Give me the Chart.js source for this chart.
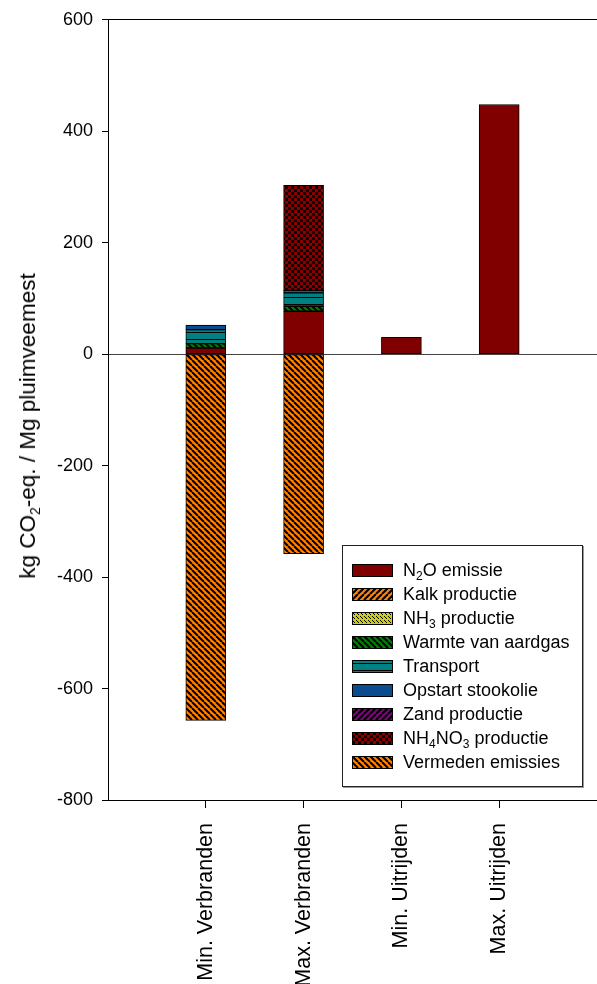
<!DOCTYPE html>
<html>
<head>
<meta charset="utf-8">
<script src="https://cdn.jsdelivr.net/npm/chart.js@4"></script>
<style>
  body { margin: 0; background: #fff; font-family: 'Liberation Sans', Arial, sans-serif; }
  #wrap { position: relative; width: 597px; height: 984px; overflow: hidden; }
  #ytitle {
    position: absolute; left: 28px; top: 426px; white-space: nowrap;
    font-size: 22.5px; color: #000;
    transform: translate(-50%, -50%) rotate(-90deg);
  }
  #legend {
    position: absolute; left: 342px; top: 545px; width: 241px; height: 242px;
    box-sizing: border-box; border: 1.5px solid #222; background: #fff;
    box-shadow: 1px 1px 0 #999; padding: 12px 0 0 9px;
  }
  .row { height: 24.1px; display: flex; align-items: center; font-size: 18px; color: #000; }
  .row canvas { width: 41px; height: 13px; margin-right: 10px; flex: none; }
  sub { font-size: 12px; vertical-align: -4px; line-height: 0; }
  #ytitle sub { font-size: 14px; vertical-align: -5px; }
</style>
</head>
<body>
<div id="wrap">
  <canvas id="chart"></canvas>
  <div id="ytitle">kg CO<sub>2</sub>-eq. / Mg pluimveemest</div>
  <div id="legend"></div>
</div>
<script>
const categories = ['Min. Verbranden', 'Max. Verbranden', 'Min. Uitrijden', 'Max. Uitrijden'];
const n2oEmissie = [11, 77, 30, 448];
const kalkProductie = [0, 0, 0, 0];
const nh3Productie = [0, 0, 0, 0];
const warmteAardgas = [8, 9, 0, 0];
const transport = [25, 24, 0, 0];
const opstartStookolie = [8, 4, 0, 0];
const zandProductie = [0, 0, 0, 0];
const nh4no3Productie = [0, 189, 0, 0];
const vermedenEmissies = [-657, -358, 0, 0];
const yTicks = [600, 400, 200, 0, -200, -400, -600, -800];

// legend labels with subscripts
const legendNames = ['N<sub>2</sub>O emissie', 'Kalk productie', 'NH<sub>3</sub> productie',
  'Warmte van aardgas', 'Transport', 'Opstart stookolie', 'Zand productie',
  'NH<sub>4</sub>NO<sub>3</sub> productie', 'Vermeden emissies'];
const plainNames = ['N2O emissie', 'Kalk productie', 'NH3 productie', 'Warmte van aardgas',
  'Transport', 'Opstart stookolie', 'Zand productie', 'NH4NO3 productie', 'Vermeden emissies'];

function makePattern(w, h, bg, draw) {
  const c = document.createElement('canvas');
  c.width = w; c.height = h;
  const g = c.getContext('2d');
  g.fillStyle = bg;
  g.fillRect(0, 0, w, h);
  g.strokeStyle = '#000';
  g.fillStyle = '#000';
  if (draw) draw(g, w, h);
  return g.createPattern(c, 'repeat');
}
function backDiag(g, w, h) {
  g.lineWidth = 2;
  g.beginPath();
  for (let k = -1; k <= 1; k++) { g.moveTo(k * w, 0); g.lineTo(k * w + w, h); }
  g.stroke();
}
function fwdDiag(g, w, h) {
  g.lineWidth = 2;
  g.beginPath();
  for (let k = -1; k <= 1; k++) { g.moveTo(k * w, h); g.lineTo(k * w + w, 0); }
  g.stroke();
}

const fills = [
  '#800000',
  makePattern(6, 6, '#ff8000', fwdDiag),
  makePattern(4, 4, '#d0d000', (g) => { g.fillRect(0, 0, 1, 1); g.fillRect(2, 2, 1, 1); g.fillRect(1, 1, 1, 1); }),
  makePattern(6, 6, '#008000', backDiag),
  makePattern(8, 7, '#008080', (g, w) => { g.fillRect(0, 3, w, 1); }),
  '#0a4c8f',
  makePattern(6, 6, '#800080', fwdDiag),
  makePattern(6, 6, '#120000', (g) => { g.fillStyle = '#8a0000'; g.fillRect(0, 0, 3, 3); g.fillRect(3, 3, 3, 3); }),
  makePattern(6, 6, '#ff8000', backDiag)
];

const series = [n2oEmissie, kalkProductie, nh3Productie, warmteAardgas, transport,
  opstartStookolie, zandProductie, nh4no3Productie, vermedenEmissies];

const labels = [''].concat(categories, ['']);
// empty segments are left out so they draw no border line
const pad = (arr) => [null].concat(arr.map(v => v === 0 ? null : v), [null]);

const datasets = series.map((arr, i) => ({
  label: plainNames[i],
  data: pad(arr),
  backgroundColor: fills[i],
  borderColor: '#000',
  borderWidth: 1,
  borderSkipped: false,
  barThickness: 40,
  stack: 's'
}));

const font = "'Liberation Sans', Arial, sans-serif";

const chart = new Chart(document.getElementById('chart').getContext('2d'), {
  type: 'bar',
  data: { labels: labels, datasets: datasets },
  options: {
    responsive: true,
    maintainAspectRatio: false,
    animation: false,
    layout: { padding: { top: 17, right: 0, bottom: 0, left: 0 } },
    plugins: {
      legend: { display: false },
      tooltip: { enabled: false }
    },
    scales: {
      x: {
        stacked: true,
        offset: false,
        border: { display: true, color: '#000', width: 1 },
        grid: {
          offset: false,
          drawOnChartArea: false,
          color: 'transparent',
          tickLength: 8,
          tickColor: (ctx) => (ctx.index === 0 || ctx.index === labels.length - 1) ? 'transparent' : '#000'
        },
        ticks: {
          autoSkip: false,
          minRotation: 90,
          maxRotation: 90,
          padding: 15,
          color: '#000',
          font: { family: font, size: 21.5 }
        },
        afterFit: (s) => { s.height = 184; s.paddingLeft = 0; s.paddingRight = 0; }
      },
      y: {
        stacked: true,
        min: -800,
        max: 600,
        z: 1,
        border: { display: true, color: '#000', width: 1 },
        grid: {
          color: (ctx) => {
            if (!ctx.tick) return 'transparent';
            if (ctx.tick.value === 0) return '#444';
            if (ctx.tick.value === 600) return '#000';
            return 'transparent';
          },
          tickColor: '#000',
          tickLength: 6
        },
        afterBuildTicks: (s) => { s.ticks = yTicks.map(v => ({ value: v })); },
        ticks: {
          padding: 9,
          color: '#000',
          font: { family: font, size: 18 }
        },
        afterFit: (s) => { s.width = 108; }
      }
    }
  }
});

// legend built from the chart datasets
const legendEl = document.getElementById('legend');
chart.data.datasets.forEach((ds, i) => {
  const row = document.createElement('div');
  row.className = 'row';
  const sw = document.createElement('canvas');
  sw.width = 41; sw.height = 13;
  const g = sw.getContext('2d');
  g.fillStyle = ds.backgroundColor;
  g.fillRect(0, 0, 41, 13);
  g.strokeStyle = '#000';
  g.lineWidth = 1;
  g.strokeRect(0.5, 0.5, 40, 12);
  row.appendChild(sw);
  const t = document.createElement('span');
  t.innerHTML = legendNames[i];
  row.appendChild(t);
  legendEl.appendChild(row);
});
</script>
</body>
</html>
